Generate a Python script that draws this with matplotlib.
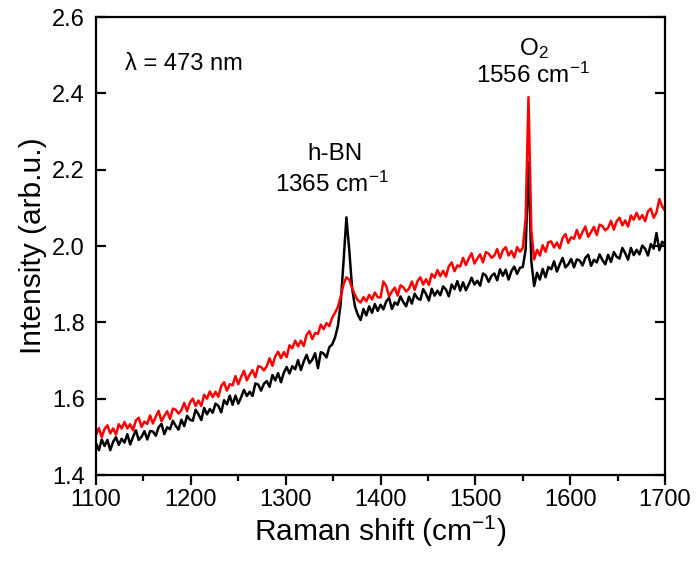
import matplotlib
matplotlib.use("Agg")
import matplotlib.pyplot as plt

plt.rcParams['font.family'] = ['Liberation Sans', 'DejaVu Sans']
plt.rcParams['mathtext.fontset'] = 'custom'
plt.rcParams['mathtext.rm'] = 'Liberation Sans'
plt.rcParams['mathtext.it'] = 'Liberation Sans:italic'
plt.rcParams['mathtext.bf'] = 'Liberation Sans:bold'

raman_shift = list(range(1100, 1701, 3))

black_intensity = [
    1.483, 1.465, 1.493, 1.476, 1.492, 1.465, 1.487, 1.499, 1.479, 1.495,
    1.485, 1.507, 1.480, 1.500, 1.517, 1.492, 1.500, 1.515, 1.493, 1.515,
    1.514, 1.503, 1.525, 1.534, 1.507, 1.525, 1.520, 1.542, 1.529, 1.519,
    1.545, 1.528, 1.555, 1.545, 1.542, 1.571, 1.559, 1.544, 1.576, 1.559,
    1.573, 1.563, 1.587, 1.581, 1.564, 1.596, 1.585, 1.608, 1.584, 1.608,
    1.587, 1.604, 1.623, 1.607, 1.618, 1.607, 1.640, 1.637, 1.621, 1.639,
    1.646, 1.631, 1.662, 1.648, 1.667, 1.643, 1.668, 1.683, 1.666, 1.685,
    1.677, 1.701, 1.675, 1.697, 1.715, 1.693, 1.702, 1.719, 1.680, 1.722,
    1.718, 1.708, 1.735, 1.742, 1.760, 1.790, 1.850, 1.960, 2.075, 1.990,
    1.890, 1.842, 1.820, 1.806, 1.835, 1.818, 1.842, 1.825, 1.848, 1.830,
    1.846, 1.834, 1.855, 1.864, 1.835, 1.852, 1.846, 1.868, 1.853, 1.842,
    1.867, 1.849, 1.875, 1.863, 1.859, 1.887, 1.874, 1.857, 1.888, 1.870,
    1.883, 1.871, 1.894, 1.886, 1.868, 1.899, 1.887, 1.908, 1.883, 1.905,
    1.884, 1.899, 1.917, 1.899, 1.909, 1.896, 1.928, 1.923, 1.906, 1.922,
    1.928, 1.910, 1.939, 1.922, 1.938, 1.912, 1.934, 1.946, 1.927, 1.943,
    1.945, 1.990, 2.220, 1.960, 1.895, 1.930, 1.912, 1.940, 1.918, 1.945,
    1.939, 1.960, 1.933, 1.952, 1.969, 1.944, 1.952, 1.966, 1.944, 1.965,
    1.962, 1.949, 1.969, 1.977, 1.948, 1.964, 1.957, 1.978, 1.963, 1.952,
    1.977, 1.958, 1.984, 1.972, 1.967, 1.995, 1.981, 1.964, 1.995, 1.976,
    1.990, 1.978, 2.001, 1.993, 1.975, 2.005, 1.993, 2.034, 1.989, 2.011,
    2.005,
]

red_intensity = [
    1.505, 1.523, 1.499, 1.521, 1.530, 1.509, 1.522, 1.506, 1.533, 1.522,
    1.539, 1.522, 1.533, 1.517, 1.543, 1.550, 1.526, 1.540, 1.534, 1.556,
    1.535, 1.553, 1.568, 1.541, 1.555, 1.567, 1.547, 1.574, 1.571, 1.561,
    1.570, 1.589, 1.567, 1.590, 1.600, 1.581, 1.595, 1.581, 1.610, 1.600,
    1.619, 1.604, 1.618, 1.605, 1.633, 1.643, 1.621, 1.638, 1.635, 1.659,
    1.638, 1.657, 1.673, 1.648, 1.663, 1.675, 1.656, 1.685, 1.683, 1.674,
    1.685, 1.706, 1.686, 1.711, 1.723, 1.706, 1.722, 1.709, 1.740, 1.732,
    1.752, 1.737, 1.752, 1.738, 1.767, 1.777, 1.756, 1.772, 1.770, 1.794,
    1.782, 1.798, 1.790, 1.812, 1.825, 1.840, 1.868, 1.900, 1.918, 1.912,
    1.890, 1.872, 1.858, 1.852, 1.866, 1.855, 1.872, 1.860, 1.878, 1.866,
    1.865, 1.907, 1.895, 1.868, 1.881, 1.891, 1.870, 1.897, 1.892, 1.881,
    1.888, 1.907, 1.885, 1.908, 1.918, 1.899, 1.913, 1.898, 1.927, 1.917,
    1.937, 1.921, 1.935, 1.920, 1.947, 1.957, 1.934, 1.949, 1.946, 1.969,
    1.950, 1.967, 1.981, 1.954, 1.967, 1.978, 1.957, 1.984, 1.980, 1.969,
    1.975, 1.992, 1.968, 1.989, 1.997, 1.975, 1.987, 1.970, 1.997, 1.985,
    1.995, 2.070, 2.390, 2.040, 1.965, 1.990, 1.975, 2.002, 1.985, 2.010,
    2.012, 1.996, 2.009, 1.994, 2.021, 2.031, 2.008, 2.023, 2.019, 2.042,
    2.020, 2.037, 2.051, 2.024, 2.037, 2.050, 2.029, 2.056, 2.052, 2.041,
    2.048, 2.066, 2.043, 2.065, 2.074, 2.054, 2.067, 2.051, 2.080, 2.069,
    2.087, 2.070, 2.081, 2.065, 2.091, 2.098, 2.074, 2.088, 2.123, 2.104,
    2.092,
]

x_ticks = [1100, 1200, 1300, 1400, 1500, 1600, 1700]
x_minor_ticks = [1150, 1250, 1350, 1450, 1550, 1650]
y_ticks = [1.4, 1.6, 1.8, 2.0, 2.2, 2.4, 2.6]

fig = plt.figure(figsize=(6.96, 5.63), dpi=100)
ax = fig.add_axes([0.138, 0.1563, 0.8175, 0.8135])

ax.plot(raman_shift, black_intensity, color='black', lw=1.8)
ax.plot(raman_shift, red_intensity, color='#ff0000', lw=1.8)

ax.set_xlim(1100, 1700)
ax.set_ylim(1.4, 2.6)
ax.set_xticks(x_ticks)
ax.set_xticks(x_minor_ticks, minor=True)
ax.set_yticks(y_ticks)
ax.set_xticklabels([str(v) for v in x_ticks])
ax.set_yticklabels([f"{v:.1f}" for v in y_ticks])

for s in ax.spines.values():
    s.set_linewidth(1.6)

ax.tick_params(axis='x', which='major', direction='out', length=7, width=1.6,
               labelsize=17, pad=3, top=False)
ax.tick_params(axis='x', which='minor', direction='out', length=4, width=1.6, top=False)
ax.tick_params(axis='y', which='major', direction='in', length=7, width=1.6,
               labelsize=17, right=True, pad=8)

ax.set_xlabel('Raman shift (cm$^{-1}$)', fontsize=21.5, labelpad=2)
ax.set_ylabel('Intensity (arb.u.)', fontsize=21.5, labelpad=4)

ax.text(1131, 2.461, 'λ = 473 nm', fontsize=17, ha='left', va='baseline')
ax.text(1352, 2.226, 'h-BN', fontsize=17.5, ha='center', va='baseline')
ax.text(1349, 2.142, '1365 cm$^{-1}$', fontsize=17.5, ha='center', va='baseline')
ax.text(1562, 2.501, 'O$_2$', fontsize=17.5, ha='center', va='baseline')
ax.text(1561, 2.427, '1556 cm$^{-1}$', fontsize=17.5, ha='center', va='baseline')

fig.savefig('out.png', dpi=100)
